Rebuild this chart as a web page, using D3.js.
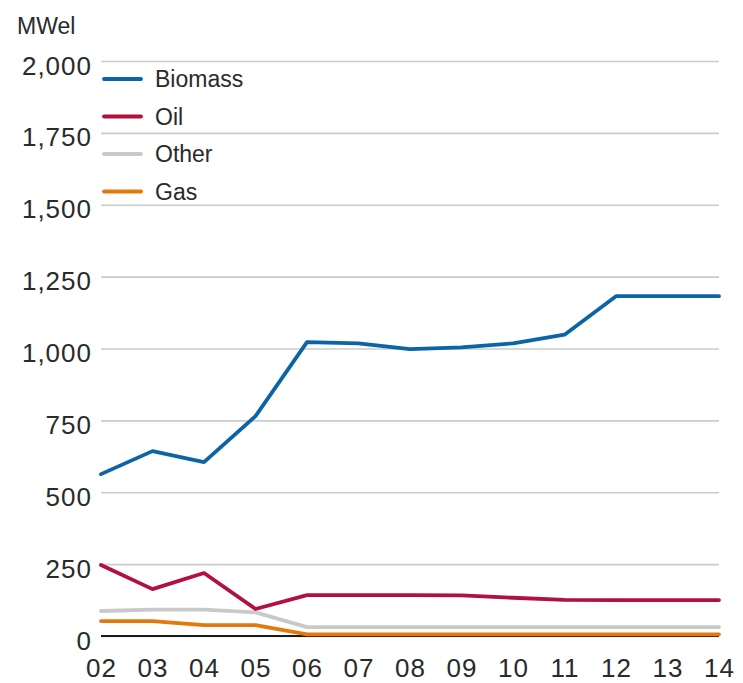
<!DOCTYPE html>
<html>
<head>
<meta charset="utf-8">
<script src="https://cdn.jsdelivr.net/npm/d3@7"></script>
<style>
  body { margin: 0; background: #fff; }
  svg text { font-family: "Liberation Sans", Arial, sans-serif; fill: #2a2a2a; }
</style>
</head>
<body>
<div id="chart-area"></div>
<script>
// data (MWel per year)
const years = ["02", "03", "04", "05", "06", "07", "08", "09", "10", "11", "12", "13", "14"];
const biomass = [563, 643, 605, 765, 1022, 1018, 998, 1004, 1018, 1048, 1182, 1182, 1182];
const oil = [247, 163, 219, 94, 142, 142, 142, 141, 133, 126, 125, 125, 125];
const other = [87, 92, 92, 82, 31, 31, 31, 31, 31, 31, 31, 31, 31];
const gas = [52, 52, 38, 38, 6, 6, 6, 6, 6, 6, 6, 6, 6];
const yTicks = [0, 250, 500, 750, 1000, 1250, 1500, 1750, 2000];

const seriesNames = ["Biomass", "Oil", "Other", "Gas"];
const seriesValues = { Biomass: biomass, Oil: oil, Other: other, Gas: gas };
const colors = { Biomass: "#0b64a8", Oil: "#b3103e", Other: "#c9c9c9", Gas: "#e4780f" };

const W = 743, H = 683;
const MARGIN = { LEFT: 101, RIGHT: 24, TOP: 61, BOTTOM: 47 };
const WIDTH = W - MARGIN.LEFT - MARGIN.RIGHT;
const HEIGHT = H - MARGIN.TOP - MARGIN.BOTTOM;

const svg = d3.select("#chart-area").append("svg")
  .attr("width", W)
  .attr("height", H);

const g = svg.append("g")
  .attr("transform", `translate(${MARGIN.LEFT},${MARGIN.TOP})`);

const x = d3.scalePoint()
  .domain(years)
  .range([0, WIDTH]);

const y = d3.scaleLinear()
  .domain([0, 2000])
  .range([HEIGHT, 0]);

// unit label
svg.append("text")
  .attr("x", 17)
  .attr("y", 34)
  .attr("font-size", "23px")
  .text("MWel");

// gridlines + y labels
const yAxis = d3.axisLeft(y)
  .tickValues(yTicks)
  .tickSize(-WIDTH)
  .tickPadding(9)
  .tickFormat(d3.format(","));

g.append("g")
  .attr("class", "y axis")
  .call(yAxis)
  .call(a => a.select(".domain").remove())
  .call(a => a.selectAll(".tick line")
    .attr("stroke", "#cbcbcb")
    .attr("stroke-width", 1.6))
  .call(a => a.selectAll(".tick text")
    .attr("font-size", "26px")
    .attr("font-family", "Liberation Sans, Arial, sans-serif")
    .attr("fill", "#2a2a2a")
    .attr("letter-spacing", "1px")
    .attr("dy", "0.5em"));

// x labels
const xAxis = d3.axisBottom(x).tickSize(0).tickPadding(23);
g.append("g")
  .attr("class", "x axis")
  .attr("transform", `translate(0,${HEIGHT})`)
  .call(xAxis)
  .call(a => a.select(".domain").remove())
  .call(a => a.selectAll(".tick text")
    .attr("font-size", "26px")
    .attr("font-family", "Liberation Sans, Arial, sans-serif")
    .attr("fill", "#2a2a2a")
    .attr("letter-spacing", "1px"));

// zero baseline
g.append("line")
  .attr("x1", 0)
  .attr("x2", WIDTH)
  .attr("y1", y(0))
  .attr("y2", y(0))
  .attr("stroke", "#1a1a1a")
  .attr("stroke-width", 2.2);

const line = d3.line()
  .x((d, i) => x(years[i]))
  .y(d => y(d));

// draw bottom series first so biomass sits on top
["Other", "Gas", "Oil", "Biomass"].forEach(name => {
  g.append("path")
    .datum(seriesValues[name])
    .attr("fill", "none")
    .attr("stroke", colors[name])
    .attr("stroke-width", 3.8)
    .attr("stroke-linejoin", "round")
    .attr("stroke-linecap", "round")
    .attr("d", line);
});

// legend
const legend = svg.append("g")
  .attr("transform", "translate(103,79)");

seriesNames.forEach((name, i) => {
  const row = legend.append("g")
    .attr("transform", `translate(0,${i * 37.5})`);
  row.append("line")
    .attr("x1", 1)
    .attr("x2", 38)
    .attr("stroke", colors[name])
    .attr("stroke-width", 3.8)
    .attr("stroke-linecap", "round");
  row.append("text")
    .attr("x", 52)
    .attr("y", 8)
    .attr("font-size", "23px")
    .text(name);
});
</script>
</body>
</html>
